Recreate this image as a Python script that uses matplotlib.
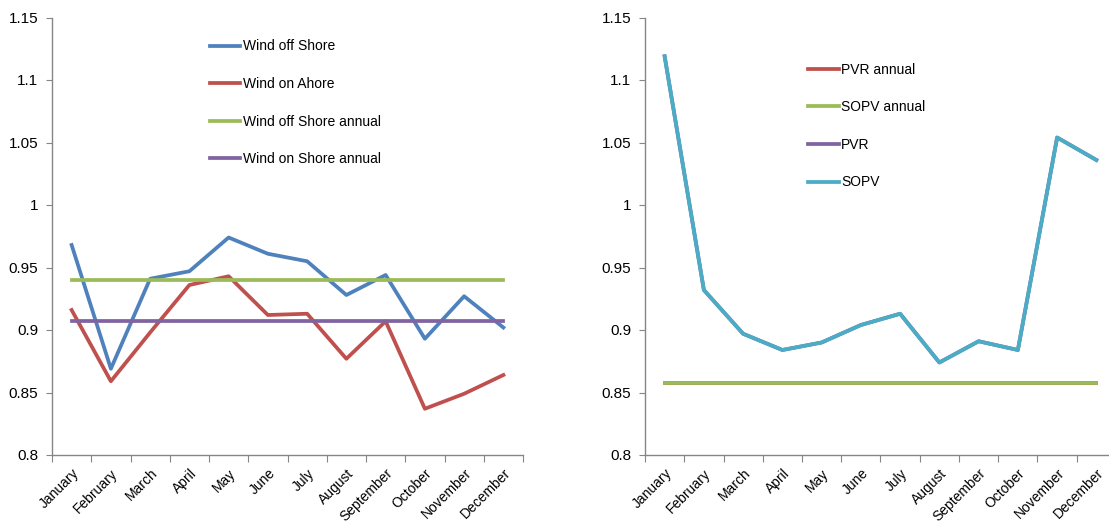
import numpy as np
import matplotlib.pyplot as plt
from matplotlib.ticker import FixedLocator, FuncFormatter

plt.rcParams['font.family'] = ['Liberation Sans', 'DejaVu Sans']

# ======================== data ========================
months = ['January', 'February', 'March', 'April', 'May', 'June', 'July',
          'August', 'September', 'October', 'November', 'December']

wind_off_shore = [0.968, 0.869, 0.941, 0.947, 0.974, 0.961, 0.955, 0.928, 0.944, 0.893, 0.927, 0.902]
wind_on_shore = [0.916, 0.859, 0.898, 0.936, 0.943, 0.912, 0.913, 0.877, 0.907, 0.837, 0.849, 0.864]
wind_off_annual = [0.940] * 12
wind_on_annual = [0.907] * 12

sopv = [1.119, 0.932, 0.897, 0.884, 0.890, 0.904, 0.913, 0.874, 0.891, 0.884, 1.054, 1.036]
pvr = [1.119, 0.932, 0.897, 0.884, 0.890, 0.904, 0.913, 0.874, 0.891, 0.884, 1.054, 1.036]
pvr_annual = [0.858] * 12
sopv_annual = [0.858] * 12

yticks = [0.8, 0.85, 0.9, 0.95, 1.0, 1.05, 1.1, 1.15]

# Excel 2007 colours
BLUE, RED, GREEN, PURPLE, CYAN = '#4F81BD', '#C0504D', '#9BBB59', '#8064A2', '#4BACC6'
GREY = '#868686'


def style_axis(ax):
    x = np.arange(len(months))
    ax.set_xlim(-0.5, len(months) - 0.5)
    ax.set_ylim(0.8, 1.15)
    for s in ['top', 'right']:
        ax.spines[s].set_visible(False)
    for s in ['left', 'bottom']:
        ax.spines[s].set_color(GREY)
        ax.spines[s].set_linewidth(1.0)
    # category boundaries as tick marks, labels at centres
    ax.xaxis.set_major_locator(FixedLocator(np.arange(-0.5, len(months), 1.0)))
    ax.set_xticklabels([], minor=False)
    ax.set_xticks(x, minor=True)
    ax.set_xticklabels(months, minor=True, rotation=45, ha='right',
                       rotation_mode='anchor', fontsize=10)
    ax.tick_params(axis='x', which='major', direction='out', length=5, color=GREY)
    ax.tick_params(axis='x', which='minor', length=0, pad=8)
    ax.yaxis.set_major_locator(FixedLocator(yticks))
    ax.yaxis.set_major_formatter(FuncFormatter(lambda v, p: f'{v:g}'))
    ax.tick_params(axis='y', direction='out', length=4, color=GREY, labelsize=11, pad=6)


fig = plt.figure(figsize=(11.09, 5.30), dpi=100)
W, H = 1109, 530
ax1 = fig.add_axes([52 / W, 1 - 455 / H, 471 / W, 437.5 / H])
ax2 = fig.add_axes([645 / W, 1 - 455 / H, 471 / W, 437.5 / H])

x = np.arange(len(months))
lw = 2.7

ax1.plot(x, wind_off_shore, color=BLUE, lw=lw, label='Wind off Shore')
ax1.plot(x, wind_on_shore, color=RED, lw=lw, label='Wind on Ahore')
ax1.plot(x, wind_off_annual, color=GREEN, lw=lw, label='Wind off Shore annual')
ax1.plot(x, wind_on_annual, color=PURPLE, lw=lw, label='Wind on Shore annual')
style_axis(ax1)
ax1.legend(loc='upper left', bbox_to_anchor=(0.335, 0.95), frameon=False,
           fontsize=10, handlelength=2.2, handletextpad=0.2, labelspacing=1.7,
           borderpad=0, borderaxespad=0)

ax2.plot(x, pvr_annual, color=RED, lw=lw, label='PVR annual')
ax2.plot(x, sopv_annual, color=GREEN, lw=lw, label='SOPV annual')
ax2.plot(x, pvr, color=PURPLE, lw=lw, label='PVR')
ax2.plot(x, sopv, color=CYAN, lw=lw, label='SOPV')
style_axis(ax2)
ax2.legend(loc='upper left', bbox_to_anchor=(0.346, 0.897), frameon=False,
           fontsize=10, handlelength=2.2, handletextpad=0.2, labelspacing=1.7,
           borderpad=0, borderaxespad=0)

plt.savefig('out.png', dpi=100)
plt.close()
